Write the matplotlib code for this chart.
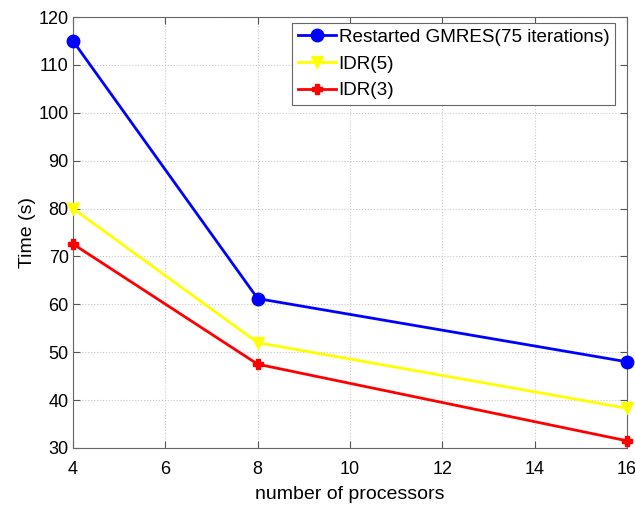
import matplotlib
matplotlib.use("Agg")
import matplotlib.pyplot as plt

plt.rcParams['font.family'] = ['Liberation Sans', 'DejaVu Sans']

processors = [4, 8, 16]
gmres = [115.0, 61.2, 48.0]
idr5 = [80.0, 52.0, 38.3]
idr3 = [72.6, 47.5, 31.5]

fig = plt.figure(figsize=(6.35, 5.08), dpi=100)
ax = fig.add_axes([73 / 635, 60 / 508, 554 / 635, 431 / 508])

ax.plot(processors, gmres, color='#0000ff', lw=2, marker='o', ms=9,
        label='Restarted GMRES(75 iterations)', clip_on=False, zorder=3)
ax.plot(processors, idr5, color='#ffff00', lw=2, marker='v', ms=9,
        label='IDR(5)', clip_on=False, zorder=3)
ax.plot(processors, idr3, color='#ff0000', lw=2, marker='P', ms=7,
        label='IDR(3)', clip_on=False, zorder=3)

ax.set_xlim(4, 16)
ax.set_ylim(30, 120)
ax.set_xticks(range(4, 17, 2))
ax.set_yticks(range(30, 121, 10))
ax.tick_params(direction='in', labelsize=13, length=5, color='#555555',
               top=True, right=True)
ax.tick_params(axis='x', pad=9)
ax.tick_params(axis='y', pad=3)
ax.grid(True, linestyle=':', color='#c8c8c8', lw=0.8)
for s in ax.spines.values():
    s.set_color('#666666')

ax.set_xlabel('number of processors', fontsize=14, labelpad=6)
ax.set_ylabel('Time (s)', fontsize=14, labelpad=2)

leg = ax.legend(loc='upper right', bbox_to_anchor=(615 / 635, 1 - 23 / 508),
                bbox_transform=fig.transFigure, borderaxespad=0,
                fontsize=13.6, fancybox=False, framealpha=1,
                edgecolor='#666666', handlelength=2.0, borderpad=0.3,
                labelspacing=0.5, handletextpad=0.15)
leg.get_frame().set_linewidth(0.8)

fig.savefig('out.png', dpi=100)
